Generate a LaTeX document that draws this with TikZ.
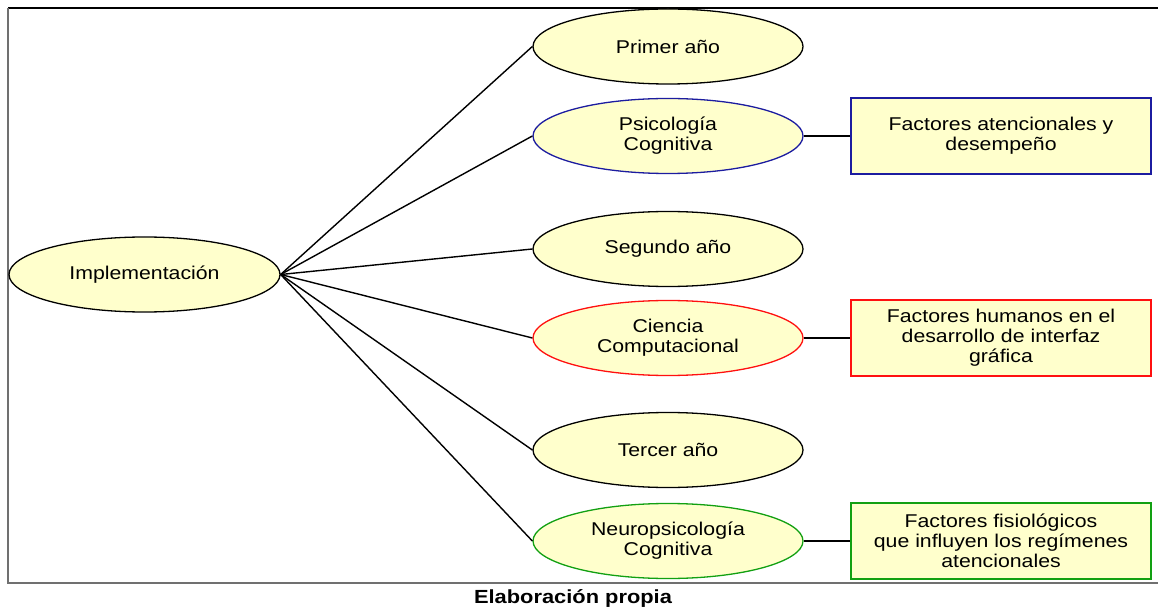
\documentclass[tikz,border=0pt]{standalone}
\usepackage{fontspec}
\setmainfont{Liberation Sans}[FakeStretch=1.15]
\usetikzlibrary{shapes.geometric}
\definecolor{paleyellow}{HTML}{FFFFCC}
\definecolor{navyline}{HTML}{1C1CA0}
\definecolor{redline}{HTML}{FF1010}
\definecolor{greenline}{HTML}{12A012}
\definecolor{framegray}{HTML}{707070}
\begin{document}
\begin{tikzpicture}[x=1pt,y=-1pt,
  txt/.style={font=\fontsize{18.5}{20}\selectfont, align=center, text=black},
  oval/.style={txt, ellipse, draw=black, line width=1.3pt, fill=paleyellow,
    minimum width=270pt, minimum height=75pt, inner sep=0pt},
  infobox/.style={txt, rectangle, line width=1.4pt, fill=paleyellow,
    minimum width=300pt, minimum height=76pt, inner sep=0pt},
  link/.style={draw=black, line width=1.4pt}
]
\useasboundingbox (0,0) rectangle (1158,609);

% page frame
\draw[black, line width=1.2pt] (8,8) -- (1158,8);
\draw[framegray, line width=1.6pt] (8,8) -- (8,583) -- (1158,583);

% central node
\node[oval, minimum width=271pt] (impl) at (144.5,274.5) {Implementación};

% years and disciplines
\node[oval] (y1)  at (668,46.5) {Primer año};
\node[oval, draw=navyline]   (psi) at (668,136) {Psicología\\Cognitiva};
\node[oval] (y2)  at (668,249) {Segundo año};
\node[oval, draw=redline]    (cc)  at (668,338) {Ciencia\\Computacional};
\node[oval] (y3)  at (668,450) {Tercer año};
\node[oval, draw=greenline]  (neu) at (668,541) {Neuropsicología\\Cognitiva};

% topic boxes
\node[infobox, draw=navyline]  (b1) at (1001,136) {Factores atencionales y\\desempeño};
\node[infobox, draw=redline]   (b2) at (1001,338) {Factores humanos en el\\desarrollo de interfaz\\gráfica};
\node[infobox, draw=greenline] (b3) at (1001,541) {Factores fisiológicos\\que influyen los regímenes\\atencionales};

% connectors
\foreach \n in {y1,psi,y2,cc,y3,neu}
  \draw[link] (impl.east) -- (\n.west);
\draw[link] (psi.east) -- (b1.west);
\draw[link] (cc.east)  -- (b2.west);
\draw[link] (neu.east) -- (b3.west);

% caption
\node[font=\bfseries\fontsize{19}{20}\selectfont] (cap) at (573,598.5) {Elaboración propia};
\end{tikzpicture}
\end{document}
